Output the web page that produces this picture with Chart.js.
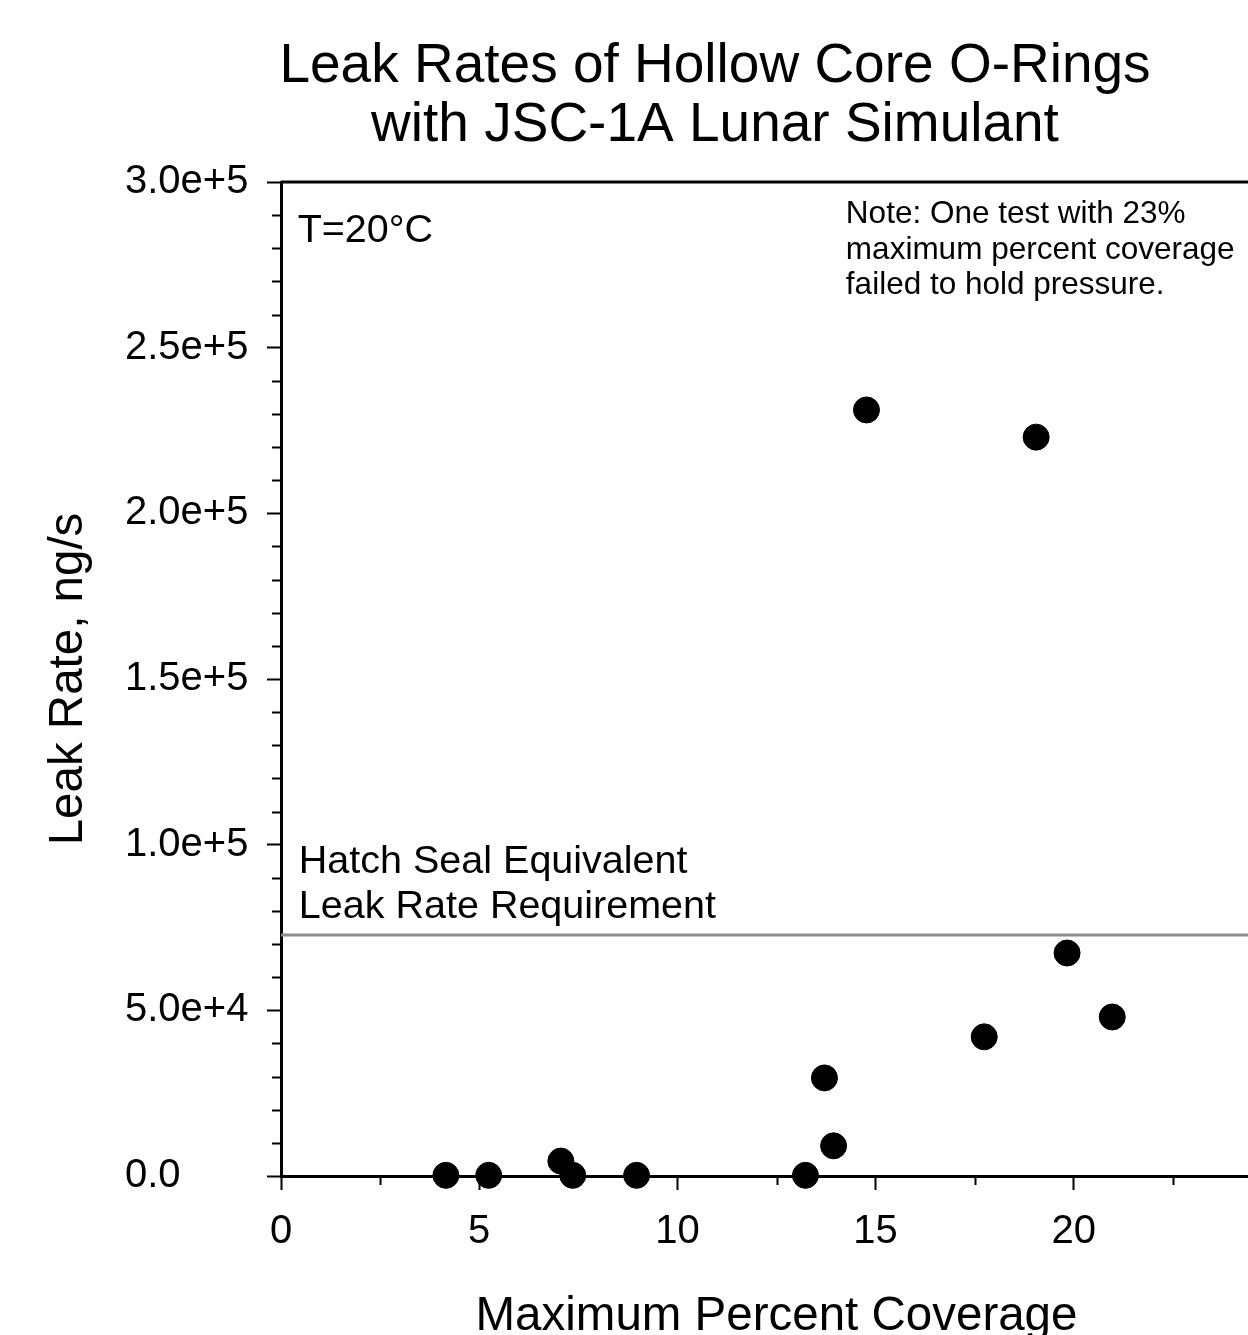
<!DOCTYPE html>
<html><head><meta charset="utf-8">
<script src="https://cdn.jsdelivr.net/npm/chart.js@4.4.1/dist/chart.umd.min.js"></script>
<style>
html,body{margin:0;padding:0;background:#fff;overflow:hidden;}
#wrap{position:absolute;left:0;top:0;width:1290px;height:1350px;}
</style></head><body>
<div id="wrap"><canvas id="c"></canvas></div>
<script>
// ---- data ----
const coverage = [4.16, 5.24, 7.06, 7.36, 8.97, 13.23, 13.71, 13.94, 14.77, 17.74, 19.05, 19.83, 20.97];
const leakRate = [200, 200, 4500, 200, 200, 200, 29600, 9100, 231200, 42000, 223000, 67300, 48000];
const requirementLevel = 72700;
const xTickLabels = ['0', '5', '10', '15', '20', ''];
const yTickLabels = ['0.0', '5.0e+4', '1.0e+5', '1.5e+5', '2.0e+5', '2.5e+5', '3.0e+5'];
const xMinorTicks = [2.5, 7.5, 12.5, 17.5, 22.5];
const titleLines = ['Leak Rates of Hollow Core O-Rings', 'with JSC-1A Lunar Simulant'];
const xTitle = 'Maximum Percent Coverage';
const yTitle = 'Leak Rate, ng/s';
const tempNote = 'T=20\u00B0C';
const requirementNote = ['Hatch Seal Equivalent', 'Leak Rate Requirement'];
const failNote = ['Note: One test with 23%', 'maximum percent coverage', 'failed to hold pressure.'];

const FONT = '"Liberation Sans", Arial, Helvetica, sans-serif';
const pts = coverage.map((x, i) => ({x: x, y: leakRate[i]}));

const decor = {
  id: 'decor',
  afterDraw(chart) {
    const {ctx, chartArea: a, scales: {x, y}} = chart;
    ctx.save();
    ctx.strokeStyle = '#000';
    // minor ticks
    ctx.lineWidth = 2;
    ctx.beginPath();
    xMinorTicks.forEach(v => {
      const px = Math.round(x.getPixelForValue(v)) + 0.5;
      ctx.moveTo(px, a.bottom); ctx.lineTo(px, a.bottom + 9);
    });
    for (let v = 10000; v < 300000; v += 10000) {
      if (v % 50000 === 0) continue;
      const py = Math.round(y.getPixelForValue(v)) + 0.5;
      ctx.moveTo(a.left, py); ctx.lineTo(a.left - 9, py);
    }
    ctx.stroke();
    // frame top/right
    ctx.lineWidth = 3;
    ctx.beginPath();
    ctx.moveTo(a.left, a.top); ctx.lineTo(a.right, a.top); ctx.lineTo(a.right, a.bottom);
    ctx.stroke();
    // texts
    ctx.fillStyle = '#000';
    ctx.textBaseline = 'middle';
    ctx.textAlign = 'center';
    ctx.font = '55px ' + FONT;
    ctx.fillText(titleLines[0], 715, 67);
    ctx.fillText(titleLines[1], 715, 126);
    // y axis title
    ctx.save();
    ctx.font = '47.5px ' + FONT;
    ctx.translate(69, (a.top + a.bottom) / 2);
    ctx.rotate(-Math.PI / 2);
    ctx.fillText(yTitle, 0, 0);
    ctx.restore();
    ctx.textAlign = 'left';
    ctx.font = '39.5px ' + FONT;
    ctx.fillText(tempNote, x.getPixelForValue(0.42), y.getPixelForValue(285100));
    ctx.fillText(requirementNote[0], x.getPixelForValue(0.45), y.getPixelForValue(94700));
    ctx.fillText(requirementNote[1], x.getPixelForValue(0.45), y.getPixelForValue(81300));
    ctx.font = '31.5px ' + FONT;
    const nx = x.getPixelForValue(14.25);
    [290100, 279500, 268900].forEach((v, i) => ctx.fillText(failNote[i], nx, y.getPixelForValue(v)));
    ctx.restore();
  }
};

new Chart(document.getElementById('c'), {
  type: 'scatter',
  data: {
    datasets: [
      {
        label: 'Leak rate',
        data: pts,
        backgroundColor: '#000',
        borderColor: '#000',
        pointRadius: 13,
        pointHoverRadius: 13,
        clip: false,
        order: 1
      },
      {
        type: 'line',
        label: 'Requirement',
        data: [{x: 0, y: requirementLevel}, {x: 25, y: requirementLevel}],
        borderColor: '#8c8c8c',
        borderWidth: 3,
        pointRadius: 0,
        fill: false,
        order: 2
      }
    ]
  },
  options: {
    responsive: true,
    maintainAspectRatio: false,
    animation: false,
    layout: {padding: {top: 182, right: 17, left: 125, bottom: 0}},
    plugins: {legend: {display: false}, tooltip: {enabled: false}, title: {display: false}},
    scales: {
      x: {
        type: 'linear', min: 0, max: 25,
        border: {color: '#000', width: 3},
        grid: {drawOnChartArea: false, drawTicks: true, tickLength: 14, tickWidth: 2, tickColor: '#000'},
        ticks: {stepSize: 5, color: '#000', font: {family: FONT, size: 40}, padding: 18, maxRotation: 0,
          callback: (v, i) => xTickLabels[i]},
        title: {display: true, text: xTitle, color: '#000', font: {family: FONT, size: 47.5}, padding: {top: 0, bottom: 5}},
        afterFit: s => { s.height = 174; }
      },
      y: {
        type: 'linear', min: 0, max: 300000,
        border: {color: '#000', width: 3},
        grid: {drawOnChartArea: false, drawTicks: true, tickLength: 14, tickWidth: 2, tickColor: '#000'},
        ticks: {stepSize: 50000, color: '#000', font: {family: FONT, size: 40}, padding: 21, crossAlign: 'far',
          callback: (v, i) => yTickLabels[i]},
        title: {display: false},
        afterFit: s => { s.width = 156; }
      }
    }
  },
  plugins: [decor]
});
</script>
</body></html>
